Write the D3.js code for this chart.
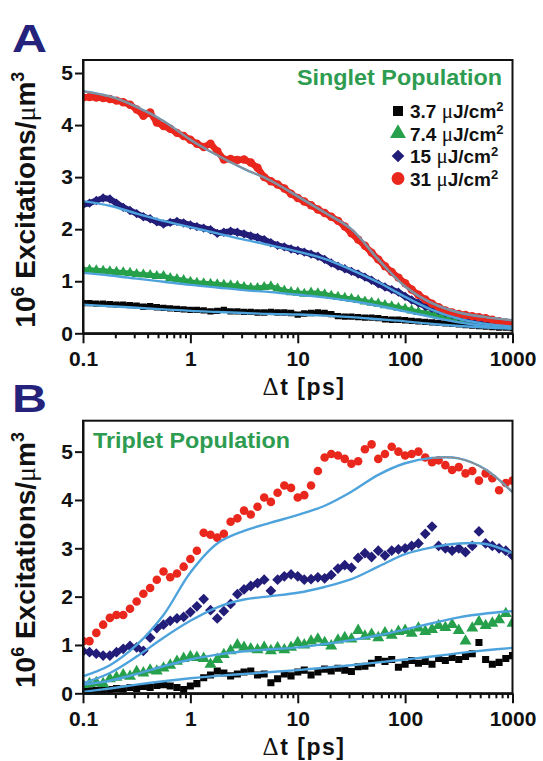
<!DOCTYPE html>
<html>
<head>
<meta charset="utf-8">
<script src="https://cdn.jsdelivr.net/npm/d3@7"></script>
<style>
  body { margin: 0; background: #fff; }
  svg { display: block; }
</style>
</head>
<body>
<svg id="fig" width="543" height="761"></svg>
<script>
// ---- Data -------------------------------------------------------------
// Pump-probe delays (ps) shared by all measured traces
const delays = [0.1,0.115,0.133,0.154,0.178,0.205,0.237,0.274,0.316,0.365,
  0.422,0.487,0.562,0.649,0.75,0.866,1,1.15,1.33,1.54,
  1.78,2.05,2.37,2.74,3.16,3.65,4.22,4.87,5.62,6.49,
  7.5,8.66,10,11.5,13.3,15.4,17.8,20.5,23.7,27.4,
  31.6,36.5,42.2,48.7,56.2,64.9,75,86.6,100,115,
  133,154,178,205,237,274,316,365,422,487,
  562,649,750,866,1000];

// Singlet population (10^6 excitations / um^3)
const singlet37 = [0.58,0.58,0.57,0.57,0.56,0.55,0.55,0.54,0.53,0.51,
  0.52,0.50,0.49,0.48,0.47,0.46,0.45,0.45,0.44,0.42,
  0.43,0.45,0.42,0.42,0.41,0.41,0.40,0.40,0.41,0.40,
  0.40,0.39,0.36,0.38,0.39,0.40,0.39,0.37,0.33,0.32,
  0.32,0.31,0.30,0.30,0.29,0.27,0.26,0.26,0.25,0.24,
  0.23,0.22,0.21,0.20,0.19,0.18,0.17,0.16,0.15,0.14,
  0.13,0.12,0.11,0.11,0.10];
const singlet74 = [1.22,1.22,1.21,1.20,1.19,1.18,1.17,1.16,1.14,1.13,
  1.12,1.10,1.10,1.06,1.04,1.02,0.99,0.97,0.96,0.95,
  0.94,0.93,0.92,0.91,0.89,0.87,0.87,0.89,0.90,0.86,
  0.82,0.79,0.78,0.76,0.78,0.77,0.75,0.72,0.70,0.68,
  0.66,0.64,0.61,0.59,0.57,0.54,0.52,0.49,0.47,0.44,
  0.41,0.39,0.37,0.34,0.32,0.30,0.27,0.25,0.23,0.20,
  0.18,0.17,0.16,0.14,0.13];
const singlet15 = [2.47,2.50,2.55,2.60,2.58,2.50,2.42,2.36,2.30,2.24,
  2.20,2.14,2.10,2.13,2.15,2.12,2.08,2.05,2.02,1.99,
  1.92,1.94,1.96,1.94,1.91,1.87,1.84,1.80,1.74,1.69,
  1.66,1.62,1.59,1.56,1.52,1.48,1.42,1.35,1.29,1.24,
  1.19,1.14,1.08,1.02,0.95,0.89,0.84,0.79,0.71,0.64,
  0.58,0.52,0.48,0.44,0.40,0.36,0.32,0.29,0.26,0.23,
  0.21,0.20,0.19,0.18,0.17];
const singlet31 = [4.53,4.54,4.53,4.52,4.50,4.47,4.44,4.39,4.30,4.18,
  4.24,4.05,3.98,3.93,3.85,3.79,3.72,3.64,3.58,3.64,
  3.50,3.34,3.35,3.33,3.34,3.28,3.18,3.00,2.92,2.86,
  2.78,2.68,2.60,2.53,2.46,2.38,2.31,2.24,2.16,2.05,
  1.92,1.80,1.68,1.55,1.42,1.29,1.18,1.07,0.96,0.84,
  0.74,0.65,0.57,0.50,0.44,0.40,0.37,0.35,0.33,0.31,
  0.29,0.26,0.23,0.21,0.20];

// Triplet population (10^6 excitations / um^3)
const triplet37 = [0.04,0.05,0.06,0.07,0.08,0.10,0.09,0.12,0.10,0.14,
  0.12,0.16,0.18,0.15,0.12,0.08,0.15,0.20,0.32,0.38,
  0.46,0.42,0.36,0.40,0.44,0.46,0.38,0.40,0.22,0.30,
  0.40,0.36,0.44,0.48,0.38,0.44,0.50,0.46,0.52,0.48,
  0.45,0.55,0.56,0.62,0.70,0.66,0.70,0.54,0.60,0.68,
  0.62,0.66,0.60,0.72,0.68,0.74,0.70,0.76,0.82,1.05,
  0.70,0.60,0.64,0.72,0.78];
const triplet74 = [0.18,0.20,0.22,0.20,0.30,0.33,0.38,0.35,0.45,0.42,
  0.48,0.46,0.52,0.58,0.66,0.72,0.76,0.74,0.72,0.60,
  0.70,0.80,0.88,1.00,0.95,0.92,0.90,0.95,0.88,0.94,
  0.90,0.95,1.05,1.00,1.08,1.12,1.05,0.98,1.10,1.15,
  1.12,1.30,1.18,1.22,1.15,1.25,1.20,1.28,1.30,1.24,
  1.35,1.28,1.32,1.40,1.36,1.42,1.30,1.08,1.35,1.48,
  1.40,1.45,1.52,1.65,1.45];
const triplet15 = [0.87,0.85,0.82,0.78,0.78,0.85,0.92,0.98,0.95,0.88,
  1.15,1.35,1.42,1.50,1.55,1.58,1.68,1.80,1.95,1.72,
  1.55,1.70,1.85,2.05,2.15,2.22,2.28,2.35,2.12,2.35,
  2.42,2.46,2.42,2.35,2.36,2.40,2.38,2.45,2.58,2.65,
  2.60,2.80,2.90,2.82,2.95,2.85,2.95,2.98,3.00,3.05,
  3.10,3.30,3.45,3.05,3.00,2.95,3.00,2.92,3.05,3.35,
  3.10,3.05,3.00,2.95,2.85];
const triplet31 = [1.08,1.08,1.25,1.42,1.56,1.62,1.62,1.75,1.90,2.06,
  2.18,2.35,2.52,2.40,2.48,2.62,2.78,2.95,3.32,3.28,
  3.22,3.30,3.55,3.62,3.78,3.70,3.86,4.05,3.96,4.15,
  4.30,4.25,4.05,4.10,4.30,4.60,4.88,4.95,4.92,4.85,
  4.75,4.80,5.05,5.15,4.85,4.95,5.10,5.00,4.92,4.95,
  5.00,4.88,4.78,4.82,4.72,4.62,4.68,4.55,4.60,4.40,
  4.55,4.45,4.20,4.35,4.40];

// Model curves, sampled on a coarser delay grid
const fitDelays = [0.1,0.178,0.316,0.562,1,1.78,3.16,5.62,10,17.8,31.6,56.2,100,178,316,562,1000];
const singletFit37 = [0.55,0.52,0.49,0.46,0.43,0.41,0.39,0.37,0.36,0.34,0.31,0.27,0.23,0.18,0.14,0.11,0.09];
const singletFit74 = [1.16,1.11,1.05,0.99,0.93,0.88,0.83,0.79,0.74,0.69,0.62,0.53,0.42,0.31,0.21,0.14,0.10];
const singletFit15 = [2.54,2.45,2.30,2.16,2.04,1.92,1.80,1.69,1.57,1.43,1.22,0.98,0.70,0.45,0.28,0.18,0.13];
const singletFit31 = [4.65,4.55,4.35,4.08,3.72,3.42,3.16,2.93,2.63,2.32,2.00,1.42,0.90,0.58,0.40,0.31,0.25];
const tripletFit37 = [0.03,0.10,0.18,0.25,0.31,0.36,0.40,0.44,0.48,0.53,0.58,0.64,0.70,0.76,0.83,0.89,0.94];
const tripletFit74 = [0.18,0.26,0.40,0.56,0.70,0.80,0.87,0.91,0.95,1.02,1.10,1.20,1.32,1.45,1.57,1.65,1.70];
const tripletFit15 = [0.21,0.42,0.76,1.15,1.50,1.78,1.94,2.01,2.08,2.20,2.36,2.62,2.88,3.02,3.10,3.09,2.90];
const tripletFit31 = [0.35,0.58,1.00,1.62,2.50,3.10,3.36,3.53,3.69,3.88,4.17,4.52,4.76,4.87,4.86,4.63,4.16];

// Labels
const fluences = ["3.7", "7.4", "15", "31"];
const xTickValues = [0.1, 1, 10, 100, 1000];
const xTickLabels = ["0.1", "1", "10", "100", "1000"];
const yTickValues = [0, 1, 2, 3, 4, 5];

// ---- Styles ------------------------------------------------------------
const SANS = "'Liberation Sans', Arial, Helvetica, sans-serif";
const SERIF = "'Liberation Serif', 'Times New Roman', serif";
const NAVY = "#25227c";
const GREEN_TEXT = "#2e9c50";
const FIT_BLUE = "#4ea3dc";
const FIT_GREY = "#8e8e8e";

const markerStyles = [
  { color: "#050505", type: d3.symbolSquare,   size: 40, sizeB: 50, rotate: 0,  band: 4.5, legendSize: 100 },
  { color: "#26a04b", type: d3.symbolTriangle, size: 48, sizeB: 62, rotate: 0,  band: 5,   legendSize: 110 },
  { color: "#211d78", type: d3.symbolSquare,   size: 44, sizeB: 58, rotate: 45, band: 6,   legendSize: 80 },
  { color: "#ea271d", type: d3.symbolCircle,   size: 56, sizeB: 58, rotate: 0,  band: 6.5, legendSize: 130 }
];

const svg = d3.select("#fig");
const x = d3.scaleLog().domain([0.1, 1000]).range([83, 512.5]);

const panels = [
  {
    letter: "A", letterY: 52, title: "Singlet Population",
    top: 60, bottom: 333.3, yMax: 5.25,
    data: [singlet37, singlet74, singlet15, singlet31],
    fits: [singletFit37, singletFit74, singletFit15, singletFit31],
    greyFrom: 0.1, legend: true, bands: true
  },
  {
    letter: "B", letterY: 412, title: "Triplet Population",
    top: 420.7, bottom: 693.3, yMax: 5.64,
    data: [triplet37, triplet74, triplet15, triplet31],
    fits: [tripletFit37, tripletFit74, tripletFit15, tripletFit31],
    greyFrom: 178, legend: false, bands: false
  }
];

function addSup(sel, txt, size, rise) {
  sel.append("tspan").attr("font-size", size).attr("dy", -rise).text(txt);
}

panels.forEach((p, pi) => {
  const y = d3.scaleLinear().domain([0, p.yMax]).range([p.bottom, p.top]);
  const g = svg.append("g");
  const [x0, x1] = x.range();

  // clip region for marks
  const clipId = "clip" + pi;
  svg.append("defs").append("clipPath").attr("id", clipId)
    .append("rect").attr("x", x0).attr("y", p.top)
    .attr("width", x1 - x0).attr("height", p.bottom - p.top);

  const plot = g.append("g").attr("clip-path", `url(#${clipId})`);

  // measured traces: dense decays get a band joining the samples, then markers
  const band = d3.line().x(d => x(d.t)).y(d => y(d.v));
  p.data.forEach((vals, si) => {
    const st = markerStyles[si];
    const pts = vals.map((v, i) => ({ t: delays[i], v }));
    const sg = plot.append("g");
    if (p.bands) {
      sg.append("path").attr("d", band(pts))
        .attr("fill", "none").attr("stroke", st.color)
        .attr("stroke-width", st.band).attr("stroke-linejoin", "round");
    }
    const sym = d3.symbol().type(st.type).size(p.bands ? st.size : st.sizeB);
    sg.selectAll("path.m")
      .data(pts)
      .join("path").attr("class", "m")
      .attr("d", sym)
      .attr("transform", d => `translate(${x(d.t)},${y(d.v)}) rotate(${st.rotate})`)
      .attr("fill", st.color);
  });

  // model curves
  const line = d3.line()
    .x(d => x(d.t)).y(d => y(d.v))
    .curve(d3.curveCatmullRom.alpha(0.5));
  p.fits.forEach((vals, si) => {
    const pts = vals.map((v, i) => ({ t: fitDelays[i], v }));
    plot.append("path").attr("d", line(pts))
      .attr("fill", "none").attr("stroke", FIT_BLUE).attr("stroke-width", 2.4);
    if (si === 3) {
      plot.append("path").attr("d", line(pts.filter(d => d.t >= p.greyFrom)))
        .attr("fill", "none").attr("stroke", FIT_GREY).attr("stroke-width", 1.5);
    }
  });

  // x axis: major ticks with labels
  const xAxis = g.append("g").attr("transform", `translate(0,${p.bottom})`)
    .call(d3.axisBottom(x).tickValues(xTickValues)
      .tickFormat((d, i) => xTickLabels[i])
      .tickSize(10).tickSizeOuter(0).tickPadding(8));
  // x axis: minor ticks
  const minor = x.ticks().filter(t => !xTickValues.includes(t));
  const xMinor = g.append("g").attr("transform", `translate(0,${p.bottom})`)
    .call(d3.axisBottom(x).tickValues(minor).tickFormat("").tickSize(5).tickSizeOuter(0));

  // y axis
  const yAxis = g.append("g").attr("transform", `translate(${x0},0)`)
    .call(d3.axisLeft(y).tickValues(yTickValues).tickFormat(d3.format("d"))
      .tickSize(8).tickSizeOuter(0).tickPadding(2));

  [xAxis, xMinor, yAxis].forEach(ax => {
    ax.selectAll("line").attr("stroke", "#111").attr("stroke-width", 2);
    ax.select(".domain").attr("stroke", "#111").attr("stroke-width", 2);
    ax.selectAll("text").attr("font-family", SANS).attr("font-weight", "bold")
      .attr("font-size", 21).attr("fill", "#111");
  });

  // frame
  g.append("rect").attr("x", x0).attr("y", p.top)
    .attr("width", x1 - x0).attr("height", p.bottom - p.top)
    .attr("fill", "none").attr("stroke", "#111").attr("stroke-width", 2);

  // x axis title
  const xt = g.append("text")
    .attr("x", 304).attr("y", p.bottom + 62)
    .attr("text-anchor", "middle")
    .attr("font-family", SANS).attr("font-weight", "bold").attr("font-size", 23)
    .attr("letter-spacing", 1.5).attr("fill", "#111");
  xt.append("tspan").attr("font-family", SERIF).attr("font-weight", "normal")
    .attr("font-size", 25).text("Δ");
  xt.append("tspan").text("t [ps]");

  // y axis title
  const yt = g.append("text")
    .attr("transform", `translate(35,${(p.top + p.bottom) / 2 + 3}) rotate(-90)`)
    .attr("text-anchor", "middle")
    .attr("font-family", SANS).attr("font-weight", "bold").attr("font-size", 28)
    .attr("fill", "#111");
  yt.append("tspan").text("10");
  addSup(yt, "6", 18, 11);
  yt.append("tspan").attr("dy", 11).text(" Excitations/");
  yt.append("tspan").attr("font-family", SERIF).attr("font-weight", "normal").text("μ");
  yt.append("tspan").text("m");
  addSup(yt, "3", 18, 11);

  // panel letter
  g.append("text").attr("x", 12).attr("y", p.letterY)
    .attr("font-family", SANS).attr("font-weight", "bold").attr("font-size", 39)
    .attr("textLength", 35).attr("lengthAdjust", "spacingAndGlyphs")
    .attr("fill", NAVY).text(p.letter);

  // population label and legend
  if (p.legend) {
    g.append("text").attr("x", 297).attr("y", p.top + 25)
      .attr("font-family", SANS).attr("font-weight", "bold").attr("font-size", 22)
      .attr("textLength", 205).attr("lengthAdjust", "spacingAndGlyphs")
      .attr("fill", GREEN_TEXT).text(p.title);

    const rows = [111, 133.5, 156, 178.5];
    fluences.forEach((f, i) => {
      const st = markerStyles[i];
      g.append("path")
        .attr("d", d3.symbol().type(st.type).size(st.legendSize))
        .attr("transform", `translate(398,${rows[i]}) rotate(${st.rotate})`)
        .attr("fill", st.color);
      const t = g.append("text").attr("x", 410).attr("y", rows[i] + 7)
        .attr("font-family", SANS).attr("font-weight", "bold").attr("font-size", 19)
        .attr("fill", "#111");
      t.append("tspan").text(f + " ");
      t.append("tspan").attr("font-family", SERIF).attr("font-weight", "normal")
        .attr("font-size", 21).text("μ");
      t.append("tspan").text("J/cm");
      addSup(t, "2", 13, 7);
    });
  } else {
    g.append("text").attr("x", 93).attr("y", p.top + 27.5)
      .attr("font-family", SANS).attr("font-weight", "bold").attr("font-size", 22)
      .attr("textLength", 197).attr("lengthAdjust", "spacingAndGlyphs")
      .attr("fill", GREEN_TEXT).text(p.title);
  }
});
</script>
</body>
</html>
